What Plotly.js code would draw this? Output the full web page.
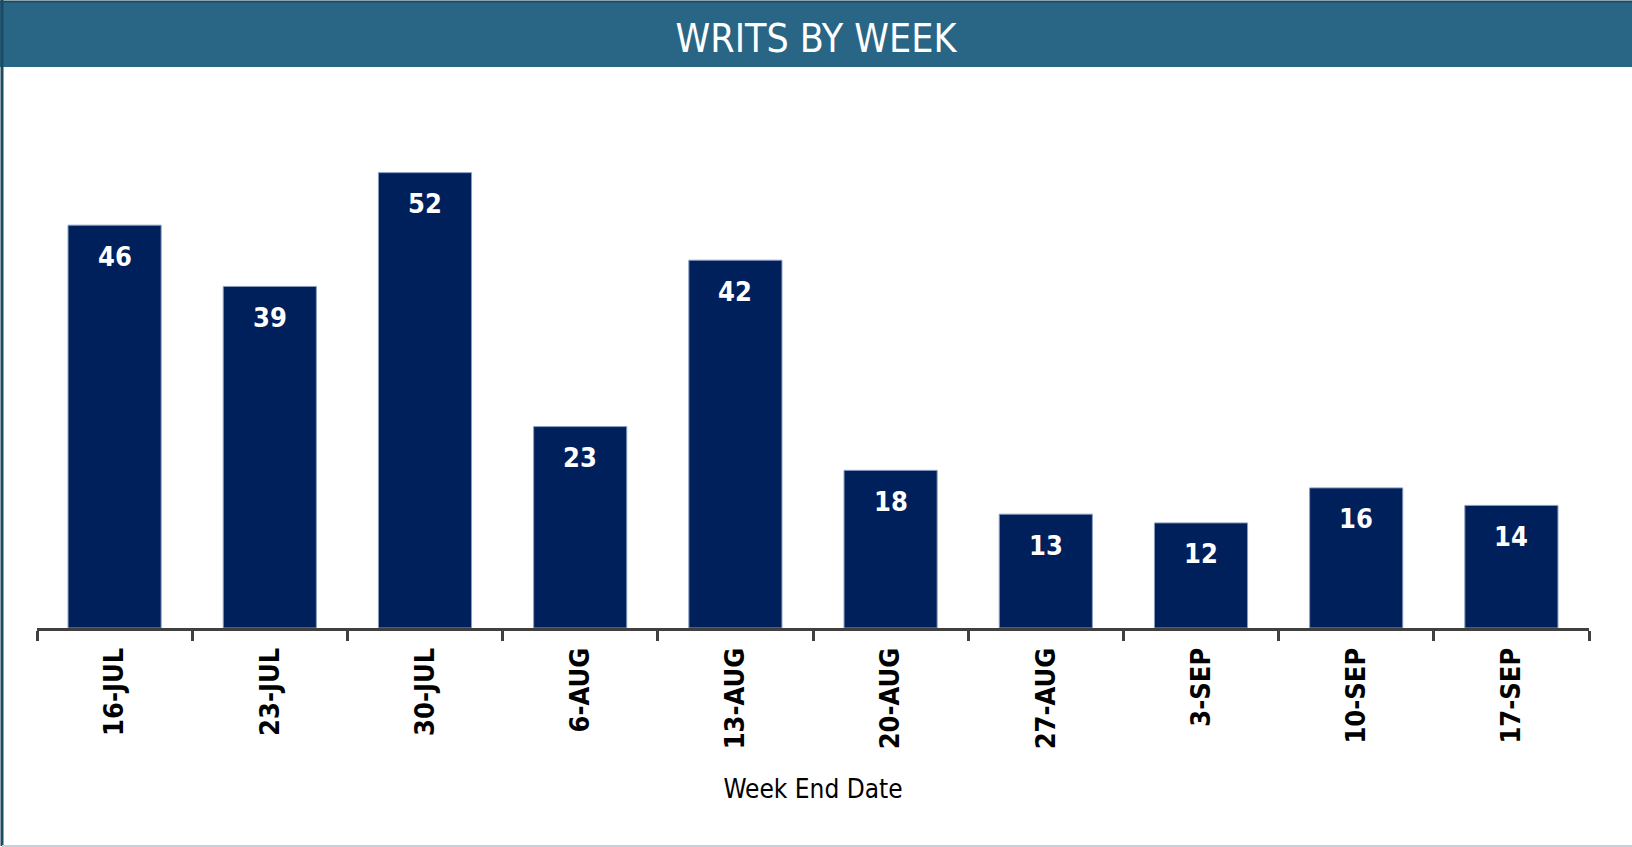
<!DOCTYPE html>
<html>
<head>
<meta charset="utf-8">
<script src="https://cdn.plot.ly/plotly-3.0.1.min.js"></script>
<style>
html,body{margin:0;padding:0;background:#ffffff;}
#chart{width:1632px;height:847px;}
</style>
</head>
<body>
<div id="chart"></div>
<script>
// ---- data ----
const weeks = ["16-JUL","23-JUL","30-JUL","6-AUG","13-AUG","20-AUG","27-AUG","3-SEP","10-SEP","17-SEP"];
const writes = [46, 39, 52, 23, 42, 18, 13, 12, 16, 14];
const chartTitle = "WRITS BY WEEK";
const xTitle = "Week End Date";

// ---- styling ----
const FONT = "'Liberation Sans Narrow', 'DejaVu Sans Condensed', 'Arial Narrow', sans-serif";
const BAR_COLOR = "#00205B";
const HEADER = "#296685";

// geometry helpers (plot area: x 37..1589, y 90..628)
const L = 37, R = 43, T = 90, B = 219, W = 1632, H = 847;
const PW = W - L - R, PH = H - T - B;
const px2x = p => (p - L) / PW;
const py2y = p => (H - B - p) / PH;

const trace = {
  type: "bar",
  x: weeks,
  y: writes,
  marker: { color: BAR_COLOR, line: { color: "#8a9cc0", width: 1 } },
  hoverinfo: "x+y"
};

const annotations = weeks.map((w, i) => ({
  x: w, y: writes[i], xref: "x", yref: "y",
  text: String(writes[i]),
  showarrow: false,
  yanchor: "middle", yshift: -31,
  font: { family: FONT, size: 27, color: "#ffffff", weight: "bold" }
}));

const shapes = [
  // header bar
  { type: "rect", xref: "paper", yref: "paper", x0: px2x(0), x1: px2x(W + 5), y0: py2y(67), y1: py2y(2), fillcolor: HEADER, line: { width: 0 }, layer: "below" },
  // header top dark line
  { type: "line", xref: "paper", yref: "paper", x0: px2x(0), x1: px2x(W + 5), y0: py2y(1.5), y1: py2y(1.5), line: { color: "#1d4a63", width: 2 } },
  // left border
  { type: "line", xref: "paper", yref: "paper", x0: px2x(2), x1: px2x(2), y0: py2y(0), y1: py2y(846), line: { color: "#1d4a63", width: 3 } },
  // bottom border
  { type: "line", xref: "paper", yref: "paper", x0: px2x(2), x1: px2x(W + 5), y0: py2y(846), y1: py2y(846), line: { color: "#c5d1d9", width: 2 } }
];

const layout = {
  width: W, height: H,
  margin: { l: L, r: R, t: T, b: B, pad: 0 },
  paper_bgcolor: "#ffffff",
  plot_bgcolor: "#ffffff",
  showlegend: false,
  bargap: 0.4,
  title: {
    text: chartTitle,
    x: 0.5, xref: "container", xanchor: "center",
    y: 1 - 38.5 / H, yref: "container", yanchor: "middle",
    font: { family: FONT, size: 39, color: "#ffffff" }
  },
  xaxis: {
    type: "category",
    showline: true, linecolor: "#404040", linewidth: 3,
    ticks: "outside", tickson: "boundaries", ticklen: 10, tickwidth: 3, tickcolor: "#404040",
    tickangle: -90,
    ticklabelstandoff: 6,
    tickfont: { family: FONT, size: 27, color: "#000000", weight: "bold" },
    showgrid: false, zeroline: false,
    automargin: false,
    title: { text: xTitle, font: { family: FONT, size: 26, color: "#000000" }, standoff: 32 }
  },
  yaxis: {
    visible: false, range: [0, PH / 8.757], fixedrange: true
  },
  shapes: shapes,
  annotations: annotations
};

Plotly.newPlot("chart", [trace], layout, { displayModeBar: false });
</script>
</body>
</html>
